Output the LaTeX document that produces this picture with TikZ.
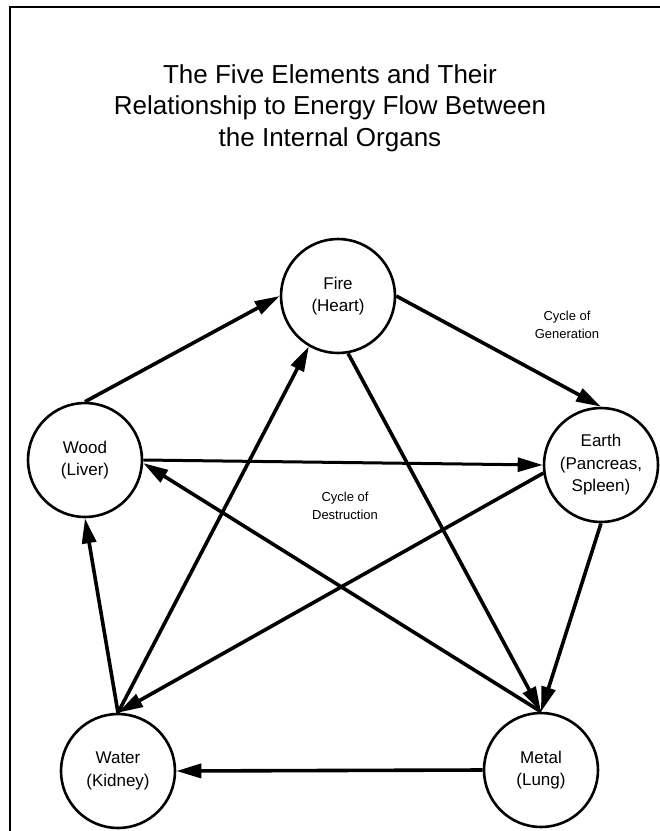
\documentclass[tikz,border=0pt]{standalone}
\usepackage{fontspec}
\setmainfont{Liberation Sans}
\usetikzlibrary{arrows.meta}

\newcommand\circsize{114pt}
\newcommand\orgfont{\fontsize{17}{22.5}\selectfont}
\newcommand\titlefont{\fontsize{26}{31.5}\selectfont}
\newcommand\notefont{\fontsize{13}{18}\selectfont}

\tikzset{
  element/.style={circle,draw,line width=2.6pt,minimum size=\circsize,inner sep=0pt,align=center,font=\orgfont},
  flow/.style={line width=3.6pt,-{Triangle[length=25pt,width=14pt]}},
  note/.style={align=center,font=\notefont}
}

\begin{document}
\begin{tikzpicture}[x=1pt,y=-1pt]
    \useasboundingbox (0,0) rectangle (660,831);
    \draw[line width=2pt] (10,831) -- (10,7) -- (660,7);

    \node[align=center,font=\titlefont] (title) at (330,108) {The Five Elements and Their\\Relationship to Energy Flow Between\\the Internal Organs};

    \node[element] (fire) at (338,296) {Fire\\(Heart)};
    \node[element] (earth) at (601,465) {Earth\\(Pancreas,\\Spleen)};
    \node[element] (metal) at (541,770) {Metal\\(Lung)};
    \node[element] (water) at (118,771) {Water\\(Kidney)};
    \node[element] (wood) at (85,460) {Wood\\(Liver)};

    \node[note] (gen) at (567,325) {Cycle of\\Generation};
    \node[note] (destr) at (345,506) {Cycle of\\Destruction};

    % generation
    \draw[flow] (wood.north) -- (fire.west);
    \draw[flow] (fire.east) -- (earth.north);
    \draw[flow] (earth.south) -- (metal.north);
    \draw[flow] (metal.west) -- (water.east);
    \draw[flow] (water.north) -- (wood.south);

    % destruction
    \draw[flow,line width=3pt] (wood.east) -- (earth.west);
    \draw[flow] (earth.188) -- (water.north);
    \draw[flow] (water.north) -- (fire.-120);
    \draw[flow] (fire.-80) -- (metal.north);
    \draw[flow] (metal.north) -- (wood.-3);
\end{tikzpicture}
\end{document}
